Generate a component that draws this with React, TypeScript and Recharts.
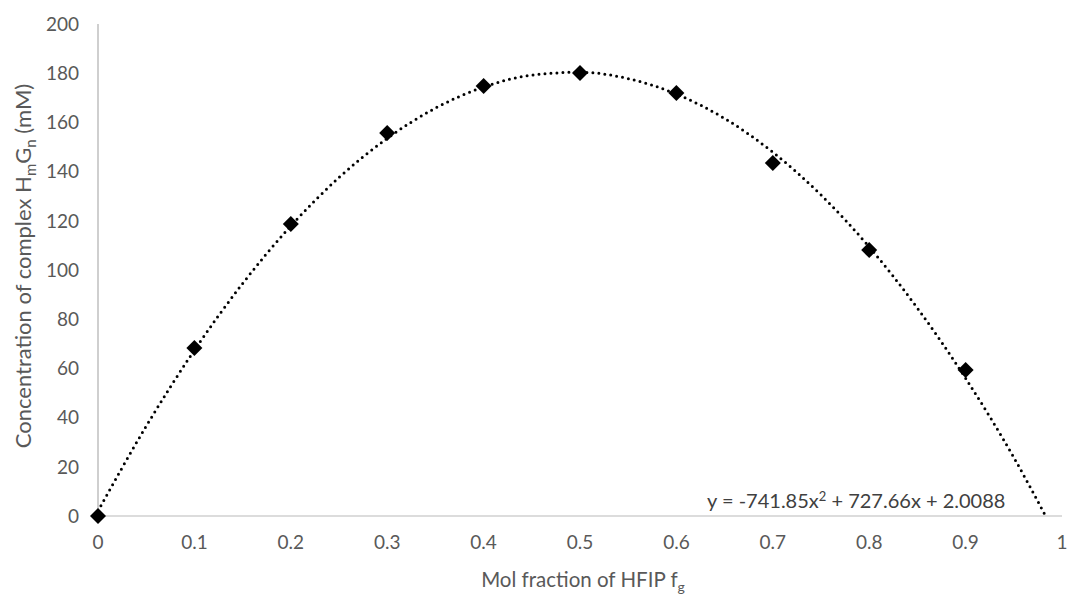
import React from 'react';
import { ComposedChart, Line, Scatter, XAxis, YAxis } from 'recharts';

// measured points (mol fraction vs concentration)
const fractions = [0, 0.1, 0.2, 0.3, 0.4, 0.5, 0.6, 0.7, 0.8, 0.9];
const concentrations = [0, 68.3, 118.7, 155.7, 174.8, 180.1, 172, 143.5, 108.1, 59.3];

// dotted polynomial trendline
const trendX = [0, 0.05, 0.1, 0.15, 0.2, 0.25, 0.3, 0.35, 0.4, 0.45, 0.5, 0.55, 0.6, 0.65, 0.7, 0.75, 0.8, 0.85, 0.9, 0.95, 0.983];
const trendY = [2.0, 36.5, 67.4, 94.5, 117.9, 137.6, 153.5, 165.8, 174.4, 179.2, 180.4, 177.8, 171.5, 161.6, 147.9, 130.5, 109.4, 84.5, 56.0, 23.8, 0];

const xTicks = [0, 0.1, 0.2, 0.3, 0.4, 0.5, 0.6, 0.7, 0.8, 0.9, 1];
const yTicks = [0, 20, 40, 60, 80, 100, 120, 140, 160, 180, 200];

const points = fractions.map((x, i) => ({ x, y: concentrations[i] }));
const trend = trendX.map((x, i) => ({ x, y: trendY[i] }));

const FONT = 'Lato, "Open Sans", sans-serif';
const GRAY = '#595959';

const Diamond = (props: any) => {
  const { cx, cy } = props;
  const r = 8;
  return (
    <polygon
      points={`${cx},${cy - r} ${cx + r},${cy} ${cx},${cy + r} ${cx - r},${cy}`}
      fill="#000"
    />
  );
};

const fmtX = (v: number) => (v === 0 || v === 1 ? String(v) : v.toFixed(1));

const App: React.FC = () => {
  return (
    <div style={{ position: 'absolute', left: 0, top: 0, width: 1068, height: 594, background: '#fff', fontFamily: FONT }}>
      <ComposedChart width={1068} height={594} margin={{ top: 24, right: 6, left: 0, bottom: 0 }}>
        <XAxis
          type="number"
          dataKey="x"
          domain={[0, 1]}
          ticks={xTicks}
          tickFormatter={fmtX}
          axisLine={{ stroke: '#d0d0d0', strokeWidth: 1.5 }}
          tickLine={false}
          tickSize={0}
          tickMargin={20}
          height={78}
          tick={{ fill: GRAY, fontSize: 19, fontFamily: FONT }}
          label={() => (
            <text x={583} y={587} textAnchor="middle" fill={GRAY} fontSize={20.5} fontFamily={FONT}>
              Mol fraction of HFIP f
              <tspan fontSize={14} dy={5}>g</tspan>
            </text>
          )}
        />
        <YAxis
          type="number"
          dataKey="y"
          domain={[0, 200]}
          ticks={yTicks}
          axisLine={{ stroke: '#bfbfbf', strokeWidth: 1.5 }}
          tickLine={false}
          tickSize={0}
          tickMargin={19}
          width={98}
          tick={{ fill: GRAY, fontSize: 19, fontFamily: FONT }}
          label={() => (
            <text
              x={0}
              y={0}
              transform="translate(31,266) rotate(-90)"
              textAnchor="middle"
              fill={GRAY}
              fontSize={22}
              fontFamily={FONT}
            >
              Concentration of complex H
              <tspan fontSize={15} dy={5}>m</tspan>
              <tspan dy={-5}>G</tspan>
              <tspan fontSize={15} dy={5}>n</tspan>
              <tspan dy={-5}> (mM)</tspan>
            </text>
          )}
        />
        <Line
          data={trend}
          dataKey="y"
          type="monotone"
          stroke="#000"
          strokeWidth={3}
          strokeDasharray="0 6"
          strokeLinecap="round"
          dot={false}
          activeDot={false}
          isAnimationActive={false}
        />
        <Scatter data={points} dataKey="y" shape={<Diamond />} isAnimationActive={false} />
      </ComposedChart>
      <div
        style={{
          position: 'absolute',
          left: 707,
          top: 489,
          fontSize: 20,
          color: '#404040',
          fontFamily: FONT,
          whiteSpace: 'nowrap',
          lineHeight: '22px',
        }}
      >
        y = -741.85x<sup style={{ fontSize: 13, verticalAlign: 'top', lineHeight: '14px' }}>2</sup> + 727.66x + 2.0088
      </div>
    </div>
  );
};

export default App;
